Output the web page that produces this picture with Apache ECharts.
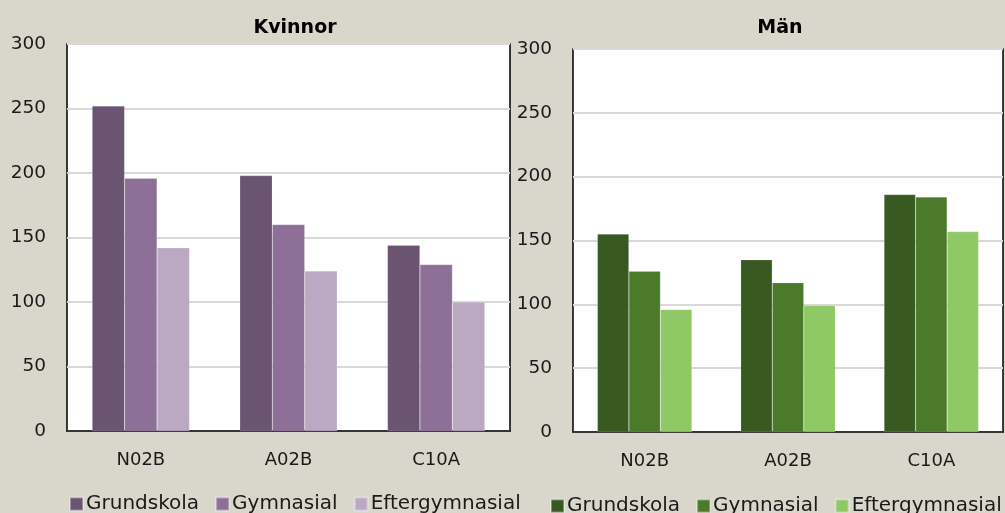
<!DOCTYPE html>
<html>
<head>
<meta charset="utf-8">
<script src="https://cdn.jsdelivr.net/npm/echarts@6/dist/echarts.min.js"></script>
<style>
  html, body { margin: 0; padding: 0; background: #d9d7cb; }
  #chart { width: 1005px; height: 513px; }
</style>
</head>
<body>
<div id="chart"></div>
<script>
// data
const categories = ["N02B", "A02B", "C10A"];
const seriesNames = ["Grundskola", "Gymnasial", "Eftergymnasial"];
const yTicks = [0, 50, 100, 150, 200, 250, 300];

const kvinnorGrundskola = [252, 198, 144];
const kvinnorGymnasial = [196, 160, 129];
const kvinnorEfter = [142, 124, 100];

const manGrundskola = [155, 135, 186];
const manGymnasial = [126, 117, 184];
const manEfter = [96, 99, 157];

const purples = ["#6a5472", "#8e6f98", "#bba9c4"];
const greens = ["#385922", "#4c7a2b", "#8fc965"];

const font = "DejaVu Sans";

function makeGrid(left, top, width, height) {
  return {
    left: left, top: top, width: width, height: height,
    show: true,
    backgroundColor: "#ffffff",
    borderColor: "#000000",
    borderWidth: 1.5,
  };
}

function makeXAxis(gridIndex) {
  return {
    type: "category",
    gridIndex: gridIndex,
    data: categories,
    axisLine: { show: true, lineStyle: { color: "#000", width: 1.5 } },
    axisTick: { show: false },
    axisLabel: { color: "#1a1a1a", fontFamily: font, fontSize: 18, margin: 20 },
  };
}

function makeYAxis(gridIndex) {
  return {
    type: "value",
    gridIndex: gridIndex,
    min: yTicks[0],
    max: yTicks[yTicks.length - 1],
    interval: 50,
    axisLine: { show: false },
    axisTick: { show: false },
    axisLabel: { color: "#1a1a1a", fontFamily: font, fontSize: 18.5, margin: 21 },
    splitLine: { lineStyle: { color: "#d9d9d9", width: 2 } },
  };
}

function makeBar(name, data, color, axisIndex) {
  return {
    name: name,
    type: "bar",
    data: data,
    xAxisIndex: axisIndex,
    yAxisIndex: axisIndex,
    barGap: "0%",
    barCategoryGap: "34%",
    itemStyle: { color: color, borderColor: "rgba(255,255,255,0.35)", borderWidth: 0.5 },
  };
}

function makeLegend(left, top, colors) {
  return {
    left: left,
    top: top,
    width: 470,
    padding: 0,
    icon: "rect",
    itemWidth: 13,
    itemHeight: 13,
    itemGap: 16,
    selectedMode: false,
    textStyle: { color: "#1a1a1a", fontFamily: font, fontSize: 20, padding: [0, 0, 0, -2] },
    data: seriesNames.map((n, i) => ({ name: n, itemStyle: { color: colors[i] } })),
  };
}

const chart = echarts.init(document.getElementById("chart"));
chart.setOption({
  backgroundColor: "#d9d7cb",
  animation: false,
  title: [
    {
      text: "Kvinnor", left: 290, top: 14, textAlign: "center",
      textStyle: { fontFamily: font, fontSize: 19, fontWeight: "bold", color: "#000" },
    },
    {
      text: "Män", left: 775, top: 14, textAlign: "center",
      textStyle: { fontFamily: font, fontSize: 19, fontWeight: "bold", color: "#000" },
    },
  ],
  legend: [makeLegend(69, 494, purples), makeLegend(550, 496, greens)],
  grid: [makeGrid(67, 44, 443, 387), makeGrid(573, 49, 430, 383)],
  xAxis: [makeXAxis(0), makeXAxis(1)],
  yAxis: [makeYAxis(0), makeYAxis(1)],
  series: [
    makeBar(seriesNames[0], kvinnorGrundskola, purples[0], 0),
    makeBar(seriesNames[1], kvinnorGymnasial, purples[1], 0),
    makeBar(seriesNames[2], kvinnorEfter, purples[2], 0),
    makeBar(seriesNames[0], manGrundskola, greens[0], 1),
    makeBar(seriesNames[1], manGymnasial, greens[1], 1),
    makeBar(seriesNames[2], manEfter, greens[2], 1),
  ],
});
</script>
</body>
</html>
